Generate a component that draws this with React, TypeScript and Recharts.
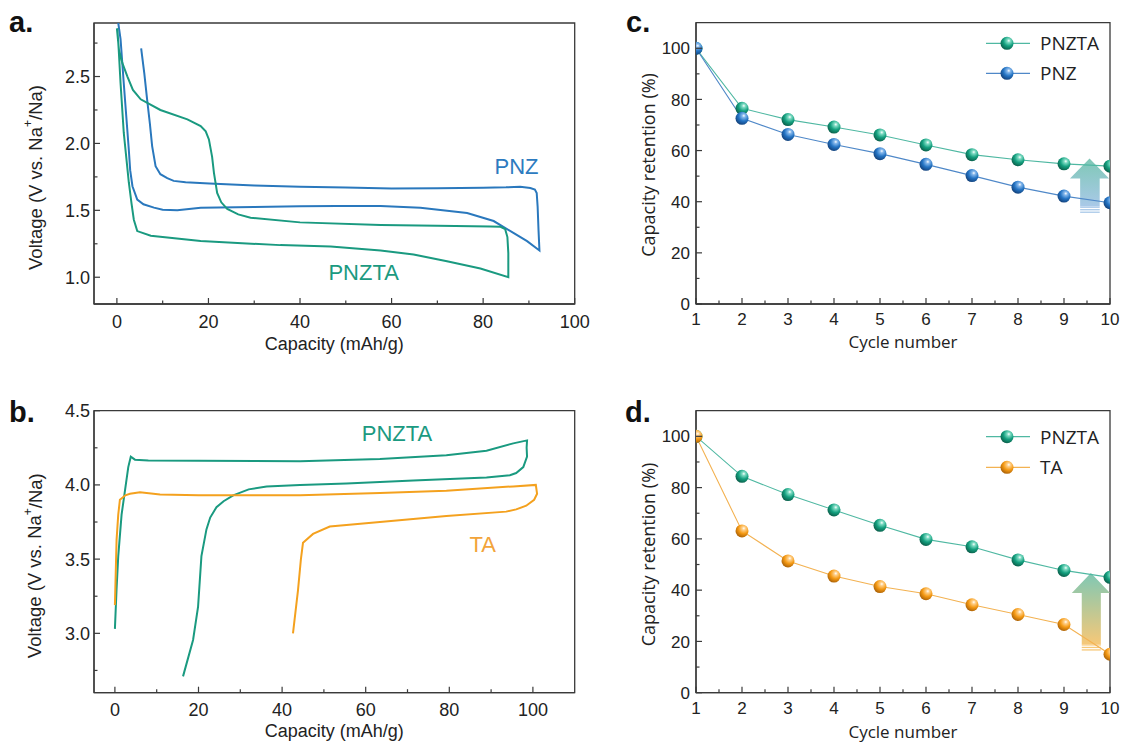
import React from 'react';
import { LineChart, Line, XAxis, YAxis, ReferenceArea, ReferenceDot } from 'recharts';

// ---------- Panel a (capacity vs voltage) ----------
const aPnzCap = [5.3, 6.0, 6.6, 7.2, 7.7, 8.45, 9.5, 11, 12.4, 15, 20.2, 30, 40, 50, 60, 70, 80, 85, 88.1, 90.3, 91.3, 91.7, 91.9, 92.1, 92.3, 89.6, 86.7, 82.3, 76.5, 66.3, 57.6, 48, 40, 30, 18.3, 13.2, 10, 8.1, 5.8, 4.45, 3.4, 2.9, 2.6, 1.5, 0.8, 0.3];
const aPnzV = [2.71, 2.52, 2.33, 2.15, 1.98, 1.83, 1.77, 1.74, 1.72, 1.71, 1.70, 1.685, 1.677, 1.67, 1.664, 1.665, 1.668, 1.672, 1.677, 1.667, 1.655, 1.63, 1.53, 1.35, 1.20, 1.27, 1.33, 1.42, 1.48, 1.52, 1.532, 1.532, 1.53, 1.525, 1.52, 1.50, 1.505, 1.52, 1.545, 1.58, 1.68, 1.80, 1.955, 2.45, 2.78, 2.9];
const aPnztaCap = [0.0, 0.45, 1.2, 2.3, 3.5, 5.2, 9.5, 15.4, 18.3, 19.4, 20.1, 20.8, 21.2, 21.9, 22.8, 24.1, 26.5, 29.2, 40, 57.6, 70, 81.6, 83.8, 84.8, 85.3, 85.5, 85.5, 79.4, 72.1, 64.8, 57.6, 46.7, 35.7, 18.3, 7.4, 4.45, 3.7, 3.2, 2.6, 1.5, 0.8, 0.4, 0.1];
const aPnztaV = [2.86, 2.70, 2.60, 2.50, 2.40, 2.33, 2.25, 2.18, 2.13, 2.09, 2.03, 1.90, 1.78, 1.63, 1.56, 1.51, 1.47, 1.445, 1.41, 1.39, 1.385, 1.38, 1.377, 1.36, 1.30, 1.18, 1.00, 1.065, 1.12, 1.17, 1.20, 1.23, 1.24, 1.27, 1.31, 1.345, 1.43, 1.55, 1.71, 2.08, 2.45, 2.70, 2.86];

// ---------- Panel b ----------
const bPnztaCap = [0, 0.4, 0.8, 1.6, 2.4, 3.2, 3.8, 4.8, 8, 20, 44.3, 63.4, 79.3, 88.9, 95.3, 98.6, 98.5, 98.6, 97.7, 96, 94.5, 88.9, 71.4, 55.4, 44.3, 36.3, 32, 28.3, 26, 24.3, 22.8, 21.9, 20.7, 19.9, 18.7, 16.3];
const bPnztaV = [3.03, 3.3, 3.52, 3.8, 3.96, 4.12, 4.19, 4.17, 4.165, 4.162, 4.16, 4.175, 4.20, 4.23, 4.28, 4.30, 4.25, 4.19, 4.12, 4.08, 4.065, 4.05, 4.03, 4.01, 4.0, 3.99, 3.97, 3.93, 3.89, 3.85, 3.78, 3.70, 3.52, 3.18, 2.955, 2.71];
const bTaCap = [0, 0.4, 0.8, 1.2, 2.5, 3.6, 6, 10.8, 20, 44.3, 63.4, 79.3, 95.3, 100.7, 101, 100.3, 98.4, 96, 93.6, 79.3, 63.4, 51.4, 47.4, 45, 44.5, 43.8, 42.6];
const bTaV = [3.19, 3.63, 3.8, 3.90, 3.93, 3.94, 3.95, 3.935, 3.93, 3.93, 3.945, 3.96, 3.99, 4.0, 3.94, 3.90, 3.86, 3.835, 3.82, 3.79, 3.75, 3.72, 3.67, 3.61, 3.5, 3.29, 3.0];

// ---------- Panels c, d (retention) ----------
const cycles = [1, 2, 3, 4, 5, 6, 7, 8, 9, 10];
const cPnzta = [100, 76.5, 72.1, 69.2, 66.1, 62.2, 58.4, 56.4, 54.8, 53.9];
const cPnz = [100, 72.6, 66.3, 62.4, 58.8, 54.6, 50.2, 45.7, 42.2, 39.6];
const dPnzta = [100, 84.4, 77.3, 71.3, 65.3, 59.8, 56.9, 51.8, 47.7, 45.0];
const dTa = [100, 63.1, 51.4, 45.5, 41.4, 38.6, 34.3, 30.5, 26.6, 15.0];

// ---------- Ticks ----------
const capTicksA = [0, 10, 20, 30, 40, 50, 60, 70, 80, 90, 100];
const capMajors = [0, 20, 40, 60, 80, 100];
const vTicksA = [1.0, 1.25, 1.5, 1.75, 2.0, 2.25, 2.5, 2.75];
const vMajorsA = [1.0, 1.5, 2.0, 2.5];
const capTicksB = [0, 10, 20, 30, 40, 50, 60, 70, 80, 90, 100];
const vTicksB = [2.75, 3.0, 3.25, 3.5, 3.75, 4.0, 4.25, 4.5];
const vMajorsB = [3.0, 3.5, 4.0, 4.5];
const cycleTicks = [1, 1.5, 2, 2.5, 3, 3.5, 4, 4.5, 5, 5.5, 6, 6.5, 7, 7.5, 8, 8.5, 9, 9.5, 10];
const cycleMajors = [1, 2, 3, 4, 5, 6, 7, 8, 9, 10];
const retTicks = [0, 10, 20, 30, 40, 50, 60, 70, 80, 90, 100];
const retMajors = [0, 20, 40, 60, 80, 100];

// ---------- Styles ----------
const ARIAL = '"Liberation Sans", Arial, sans-serif';
const OPEN = '"Open Sans", sans-serif';
const AXIS = '#3a3a3a';
const TEXT = '#222';
const TEAL = '#1a9a80';
const BLUE = '#2a78bd';
const ORANGE = '#f4a11e';
const TEAL_L = '#4fb8a2';
const BLUE_L = '#4f88c8';
const ORANGE_L = '#f3b252';

const zip = (xs: number[], ys: number[]) => xs.map((x, i) => ({ x, y: ys[i] }));
const aPnz = zip(aPnzCap, aPnzV);
const aPnzta = zip(aPnztaCap, aPnztaV);
const bPnzta = zip(bPnztaCap, bPnztaV);
const bTa = zip(bTaCap, bTaV);
const cData = cycles.map((c, i) => ({ cycle: c, PNZTA: cPnzta[i], PNZ: cPnz[i] }));
const dData = cycles.map((c, i) => ({ cycle: c, PNZTA: dPnzta[i], TA: dTa[i] }));

const isMajor = (majors: number[], v: number) => majors.some((m) => Math.abs(m - v) < 1e-9);

function makeBottomTick(majors: number[], fontSize: number, off: number, fmt: (v: number) => string) {
  return (props: any) => {
    const { x, y, payload } = props;
    const v = payload.value;
    const major = isMajor(majors, v);
    const len = major ? 6 : 3.5;
    return (
      <g>
        <line x1={x} x2={x} y1={y} y2={y - len} stroke={AXIS} strokeWidth={1.2} />
        {major && (
          <text x={x} y={y + off} textAnchor="middle" fontSize={fontSize} fontFamily={ARIAL} fill={TEXT}>
            {fmt(v)}
          </text>
        )}
      </g>
    );
  };
}

function makeLeftTick(majors: number[], fontSize: number, off: number, fmt: (v: number) => string) {
  return (props: any) => {
    const { x, y, payload } = props;
    const v = payload.value;
    const major = isMajor(majors, v);
    const len = major ? 6 : 3.5;
    return (
      <g>
        <line x1={x} x2={x + len} y1={y} y2={y} stroke={AXIS} strokeWidth={1.2} />
        {major && (
          <text x={x - off} y={y} dy="0.36em" textAnchor="end" fontSize={fontSize} fontFamily={ARIAL} fill={TEXT}>
            {fmt(v)}
          </text>
        )}
      </g>
    );
  };
}

const intFmt = (v: number) => String(Math.round(v));
const oneFmt = (v: number) => v.toFixed(1);

const xTitle = (text: string, dy: number, font: string, size: number) => (props: any) => {
  const vb = props.viewBox || {};
  return (
    <text x={vb.x + vb.width / 2} y={vb.y + dy} textAnchor="middle" fontSize={size} fontFamily={font} fill={TEXT}>
      {text}
    </text>
  );
};

const voltTitle = (cx: number, dyCenter: number) => (props: any) => {
  const vb = props.viewBox || {};
  const cy = vb.y + vb.height / 2 + dyCenter;
  return (
    <text
      x={cx}
      y={cy}
      transform={`rotate(-90, ${cx}, ${cy})`}
      textAnchor="middle"
      dominantBaseline="central"
      fontSize={18.5}
      fontFamily={ARIAL}
      fill={TEXT}
    >
      Voltage (V vs. Na
      <tspan dy={-7} fontSize={12}>+</tspan>
      <tspan dy={7}>/Na)</tspan>
    </text>
  );
};

const retTitle = (cx: number, dyCenter: number) => (props: any) => {
  const vb = props.viewBox || {};
  const cy = vb.y + vb.height / 2 + dyCenter;
  return (
    <text
      x={cx}
      y={cy}
      transform={`rotate(-90, ${cx}, ${cy})`}
      textAnchor="middle"
      dominantBaseline="central"
      fontSize={18}
      fontFamily={OPEN}
      fill={TEXT}
    >
      Capacity retention (%)
    </text>
  );
};

const textMark = (label: string, color: string) => (p: any) => (
  <text x={p.cx} y={p.cy} textAnchor="middle" dominantBaseline="central" fontSize={22} fontFamily={ARIAL} fill={color}>
    {label}
  </text>
);

const ball = (grad: string, key: string, clip: string) => (p: any) => (
  <circle key={`${key}-${p.index}`} cx={p.cx} cy={p.cy} r={6.5} fill={`url(#${grad})`} clipPath={`url(#${clip})`} />
);

const arrowShape = (grad: string, stripe: string) => (p: any) => {
  const { x, y, width: w, height: h } = p;
  if (w == null || h == null) return <g />;
  const headH = 20;
  const sL = x + w * 0.26;
  const sR = x + w * 0.76;
  const solidBottom = y + h - 7;
  const d = `M${x + w / 2},${y} L${x + w},${y + headH} L${sR},${y + headH} L${sR},${solidBottom} L${sL},${solidBottom} L${sL},${y + headH} L${x},${y + headH} Z`;
  return (
    <g>
      <path d={d} fill={`url(#${grad})`} />
      {[5.6, 3.1, 0.6].map((o) => (
        <rect key={o} x={sL} y={y + h - o - 1.3} width={sR - sL} height={1.3} fill={stripe} />
      ))}
    </g>
  );
};

function VoltPanel(props: {
  top: number; height: number; mt: number; mb: number;
  domainX: number[]; domainY: number[]; xTicks: number[]; yTicks: number[]; yMajors: number[];
  titleDy: number; children: React.ReactNode;
}) {
  const { top, height, mt, mb, domainX, domainY, xTicks, yTicks, yMajors, titleDy } = props;
  return (
    <div style={{ position: 'absolute', left: 0, top }}>
      <LineChart width={600} height={height} margin={{ top: mt, right: 25.3, bottom: mb - 10, left: 84 }}>
        <XAxis
          type="number"
          dataKey="x"
          domain={domainX}
          ticks={xTicks}
          interval={0}
          height={10}
          tickSize={0}
          tickMargin={0}
          tickLine={false}
          axisLine={{ stroke: AXIS, strokeWidth: 1.3 }}
          tick={makeBottomTick(capMajors, 18, 23.5, intFmt)}
          allowDataOverflow
          label={xTitle('Capacity (mAh/g)', titleDy, ARIAL, 18)}
        />
        <YAxis
          type="number"
          domain={domainY}
          ticks={yTicks}
          interval={0}
          width={10}
          tickSize={0}
          tickMargin={0}
          tickLine={false}
          axisLine={{ stroke: AXIS, strokeWidth: 1.3 }}
          tick={makeLeftTick(yMajors, 18, 4, oneFmt)}
          allowDataOverflow
          label={voltTitle(35, 14)}
        />
        <ReferenceArea x1={domainX[0]} x2={domainX[1]} y1={domainY[0]} y2={domainY[1]} fill="none" fillOpacity={0} stroke={AXIS} strokeWidth={1.3} />
        {props.children}
      </LineChart>
    </div>
  );
}

function RetPanel(props: {
  top: number; height: number; mt: number; mb: number; data: any[]; titleDy: number; titleShift: number; children: React.ReactNode;
}) {
  const { top, height, mt, mb, data, titleDy, titleShift } = props;
  return (
    <div style={{ position: 'absolute', left: 600, top }}>
      <LineChart width={546} height={height} data={data} margin={{ top: mt, right: 36, bottom: mb - 10, left: 86 }}>
        <XAxis
          type="number"
          dataKey="cycle"
          domain={[1, 10]}
          ticks={cycleTicks}
          interval={0}
          height={10}
          tickSize={0}
          tickMargin={0}
          tickLine={false}
          axisLine={{ stroke: AXIS, strokeWidth: 1.3 }}
          tick={makeBottomTick(cycleMajors, 17, 21, intFmt)}
          allowDataOverflow
          label={xTitle('Cycle number', titleDy, OPEN, 17)}
        />
        <YAxis
          type="number"
          domain={[0, 110]}
          ticks={retTicks}
          interval={0}
          width={10}
          tickSize={0}
          tickMargin={0}
          tickLine={false}
          axisLine={{ stroke: AXIS, strokeWidth: 1.3 }}
          tick={makeLeftTick(retMajors, 17, 6, intFmt)}
          allowDataOverflow
          label={retTitle(48, titleShift)}
        />
        <ReferenceArea x1={1} x2={10} y1={0} y2={110} fill="none" fillOpacity={0} stroke={AXIS} strokeWidth={1.3} />
        {props.children}
      </LineChart>
    </div>
  );
}

const LegendRow = (p: { y: number; color: string; grad: string; label: string }) => (
  <g>
    <line x1={986} x2={1030} y1={p.y} y2={p.y} stroke={p.color} strokeWidth={1.2} />
    <circle cx={1007} cy={p.y} r={6.5} fill={`url(#${p.grad})`} />
    <text x={1040} y={p.y + 6.8} fontSize={19} fontFamily={OPEN} fill={TEXT}>{p.label}</text>
  </g>
);

const BallGrad = (p: { id: string; light: string; base: string; dark: string }) => (
  <radialGradient id={p.id} cx="62%" cy="32%" r="72%" fx="64%" fy="30%">
    <stop offset="0%" stopColor="#ffffff" />
    <stop offset="18%" stopColor={p.light} />
    <stop offset="55%" stopColor={p.base} />
    <stop offset="100%" stopColor={p.dark} />
  </radialGradient>
);

export default function App() {
  return (
    <div style={{ position: 'absolute', left: 0, top: 0, width: 1146, height: 745, background: '#fff', overflow: 'hidden' }}>
      <svg width={0} height={0} style={{ position: 'absolute' }}>
        <defs>
          <BallGrad id="ballTeal" light="#7fdcc4" base="#14a07f" dark="#0a5c48" />
          <BallGrad id="ballBlue" light="#86b8ec" base="#2474c4" dark="#123f78" />
          <BallGrad id="ballOrange" light="#ffd08a" base="#f59a14" dark="#a85f05" />
          <linearGradient id="arrowC" x1="0" y1="0" x2="0" y2="1">
            <stop offset="0%" stopColor="#7fc8b6" />
            <stop offset="100%" stopColor="#a9c9e8" />
          </linearGradient>
          <linearGradient id="arrowD" x1="0" y1="0" x2="0" y2="1">
            <stop offset="0%" stopColor="#7fc8b4" />
            <stop offset="100%" stopColor="#f6c878" />
          </linearGradient>
          <clipPath id="plotClipC" clipPathUnits="userSpaceOnUse">
            <rect x={96} y={22.7} width={414} height={281.3} />
          </clipPath>
          <clipPath id="plotClipD" clipPathUnits="userSpaceOnUse">
            <rect x={96} y={20.7} width={414} height={282} />
          </clipPath>
        </defs>
      </svg>

      {/* Panel a */}
      <VoltPanel top={0} height={360} mt={23} mb={56} domainX={[-5, 100]} domainY={[0.8, 2.9]}
        xTicks={capTicksA} yTicks={vTicksA} yMajors={vMajorsA} titleDy={46}>
        <Line data={aPnz} dataKey="y" type="linear" stroke={BLUE} strokeWidth={2} dot={false} isAnimationActive={false} />
        <Line data={aPnzta} dataKey="y" type="linear" stroke={TEAL} strokeWidth={2} dot={false} isAnimationActive={false} />
        <ReferenceDot x={87.3} y={1.83} r={0} shape={textMark('PNZ', '#2d7bc0')} />
        <ReferenceDot x={53.9} y={1.035} r={0} shape={textMark('PNZTA', '#1b9a81')} />
      </VoltPanel>

      {/* Panel b */}
      <VoltPanel top={390} height={355} mt={20.7} mb={52.3} domainX={[-5, 110]} domainY={[2.6, 4.5]}
        xTicks={capTicksB} yTicks={vTicksB} yMajors={vMajorsB} titleDy={44}>
        <Line data={bPnzta} dataKey="y" type="linear" stroke={TEAL} strokeWidth={2} dot={false} isAnimationActive={false} />
        <Line data={bTa} dataKey="y" type="linear" stroke={ORANGE} strokeWidth={2} dot={false} isAnimationActive={false} />
        <ReferenceDot x={67.5} y={4.346} r={0} shape={textMark('PNZTA', '#1b9a81')} />
        <ReferenceDot x={88} y={3.596} r={0} shape={textMark('TA', '#f2a43a')} />
      </VoltPanel>

      {/* Panel c */}
      <RetPanel top={0} height={360} mt={22.7} mb={56} data={cData} titleDy={44} titleShift={1.6}>
        <ReferenceArea x1={9.13} x2={9.98} y1={35.4} y2={56.9} ifOverflow="visible" shape={arrowShape('arrowC', '#a9c9e8')} />
        <Line dataKey="PNZTA" type="linear" stroke={TEAL_L} strokeWidth={1.1} dot={ball('ballTeal', 'cpt', 'plotClipC')} activeDot={false} isAnimationActive={false} />
        <Line dataKey="PNZ" type="linear" stroke={BLUE_L} strokeWidth={1.1} dot={ball('ballBlue', 'cpz', 'plotClipC')} activeDot={false} isAnimationActive={false} />
      </RetPanel>

      {/* Panel d */}
      <RetPanel top={390} height={355} mt={20.7} mb={52.3} data={dData} titleDy={45} titleShift={2.8}>
        <ReferenceArea x1={9.17} x2={10} y1={16.2} y2={46.7} ifOverflow="visible" shape={arrowShape('arrowD', '#f6c878')} />
        <Line dataKey="PNZTA" type="linear" stroke={TEAL_L} strokeWidth={1.1} dot={ball('ballTeal', 'dpt', 'plotClipD')} activeDot={false} isAnimationActive={false} />
        <Line dataKey="TA" type="linear" stroke={ORANGE_L} strokeWidth={1.1} dot={ball('ballOrange', 'dta', 'plotClipD')} activeDot={false} isAnimationActive={false} />
      </RetPanel>

      {/* Overlay: panel letters and legends */}
      <svg width={1146} height={745} style={{ position: 'absolute', left: 0, top: 0, pointerEvents: 'none' }}>
        <text x={9} y={32} fontSize={29} fontWeight="bold" fontFamily={ARIAL} fill="#111">a.</text>
        <text x={9} y={422} fontSize={29} fontWeight="bold" fontFamily={ARIAL} fill="#111">b.</text>
        <text x={626} y={32} fontSize={29} fontWeight="bold" fontFamily={ARIAL} fill="#111">c.</text>
        <text x={625} y={422} fontSize={29} fontWeight="bold" fontFamily={ARIAL} fill="#111">d.</text>
        <LegendRow y={43.3} color={TEAL_L} grad="ballTeal" label="PNZTA" />
        <LegendRow y={73.3} color={BLUE_L} grad="ballBlue" label="PNZ" />
        <LegendRow y={436.7} color={TEAL_L} grad="ballTeal" label="PNZTA" />
        <LegendRow y={467.3} color={ORANGE_L} grad="ballOrange" label="TA" />
      </svg>
    </div>
  );
}
